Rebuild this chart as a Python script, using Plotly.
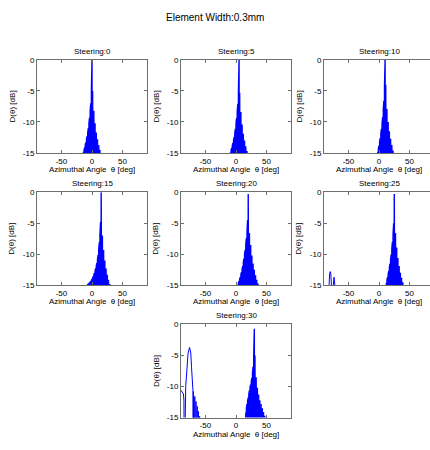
import plotly.graph_objects as go

# Beam pattern D(theta) in dB for a linear array, element width 0.3 mm,
# sampled at lobe maxima and nulls around each steered main lobe.
STEERING = [0, 5, 10, 15, 20, 25, 30]

THETA_S0 = [-15.5, -15, -14.5, -14, -13.5, -13, -12.5, -12, -11.5, -11, -10.5, -10,
            -9.5, -9, -8.5, -8, -7.5, -7, -6.5, -6, -5.5, -5, -4.5, -4, -3.5, -3,
            -2.5, -2, -1.5, -1, -0.5, 0, 0.5, 1, 1.5, 2, 2.5, 3, 3.5, 4, 4.5, 5,
            5.5, 6, 6.5, 7, 7.5, 8, 8.5, 9, 9.5, 10, 10.5, 11, 11.5, 12, 12.5, 13,
            13.5, 14, 14.5, 15, 15.5]
D_S0 = [-40, -15.2, -40, -14.8, -40, -14.5, -40, -14.1, -40, -13.7, -40, -13.3,
        -40, -12.8, -40, -12.3, -40, -11.7, -40, -11.0, -40, -10.2, -40, -9.3,
        -40, -8.2, -40, -7.0, -40, -5.0, -40, 0.0, -40, -5.0, -40, -7.0, -40, -8.2,
        -40, -9.3, -40, -10.2, -40, -11.0, -40, -11.7, -40, -12.3, -40, -12.8,
        -40, -13.3, -40, -13.7, -40, -14.1, -40, -14.5, -40, -14.8, -40, -15.2, -40]

THETA_S5 = [-10.5, -10, -9.5, -9, -8.5, -8, -7.5, -7, -6.5, -6, -5.5, -5, -4.5, -4,
            -3.5, -3, -2.5, -2, -1.5, -1, -0.5, 0, 0.5, 1, 1.5, 2, 2.5, 3, 3.5, 4,
            4.5, 5, 5.5, 6, 6.5, 7, 7.5, 8, 8.5, 9, 9.5, 10, 10.5, 11, 11.5, 12,
            12.5, 13, 13.5, 14, 14.5, 15, 15.5, 16, 16.5, 17, 17.5, 18, 18.5, 19, 19.5]
D_S5 = [-40, -15.3, -40, -14.9, -40, -14.5, -40, -14.2, -40, -13.8, -40, -13.4,
        -40, -12.9, -40, -12.4, -40, -11.8, -40, -11.1, -40, -10.3, -40, -9.4,
        -40, -8.3, -40, -7.1, -40, -5.2, -40, 0.0, -40, -5.3, -40, -7.2, -40, -8.4,
        -40, -9.5, -40, -10.4, -40, -11.2, -40, -11.9, -40, -12.5, -40, -13.0,
        -40, -13.5, -40, -13.9, -40, -14.3, -40, -14.7, -40, -15.1, -40]

THETA_S10 = [-3.5, -3, -2.5, -2, -1.5, -1, -0.5, 0, 0.5, 1, 1.5, 2, 2.5, 3, 3.5, 4,
             4.5, 5, 5.5, 6, 6.5, 7, 7.5, 8, 8.5, 9, 9.5, 10, 10.5, 11, 11.5, 12,
             12.5, 13, 13.5, 14, 14.5, 15, 15.5, 16, 16.5, 17, 17.5, 18, 18.5, 19,
             19.5, 20, 20.5, 21, 21.5, 22, 22.5, 23, 23.5, 24, 24.5]
D_S10 = [-40, -15.2, -40, -14.8, -40, -14.3, -40, -13.8, -40, -13.2, -40, -12.6,
         -40, -11.9, -40, -11.1, -40, -10.2, -40, -9.2, -40, -8.0, -40, -6.6,
         -40, -4.2, -40, 0.0, -40, -4.0, -40, -6.4, -40, -7.9, -40, -9.1, -40, -10.0,
         -40, -10.8, -40, -11.5, -40, -12.1, -40, -12.7, -40, -13.2, -40, -13.7,
         -40, -14.2, -40, -14.6, -40, -15.1, -40]

THETA_S15 = [-9.5, -9, -8.5, -8, -7.5, -7, -6.5, -6, -5.5, -5, -4.5, -4, -3.5, -3,
             -2.5, -2, -1.5, -1, -0.5, 0, 0.5, 1, 1.5, 2, 2.5, 3, 3.5, 4, 4.5, 5,
             5.5, 6, 6.5, 7, 7.5, 8, 8.5, 9, 9.5, 10, 10.5, 11, 11.5, 12, 12.5, 13,
             13.5, 14, 14.5, 15, 15.5, 16, 16.5, 17, 17.5, 18, 18.5, 19, 19.5, 20,
             20.5, 21, 21.5, 22, 22.5, 23, 23.5, 24, 24.5, 25, 25.5, 26, 26.5, 27,
             27.5, 28, 28.5, 29, 29.5, 30, 30.5]
D_S15 = [-40, -15.2, -40, -15.0, -40, -14.9, -40, -14.8, -40, -14.7, -40, -14.6,
         -40, -14.5, -40, -14.4, -40, -14.2, -40, -14.0, -40, -13.8, -40, -13.6,
         -40, -13.3, -40, -13.0, -40, -12.7, -40, -12.3, -40, -11.9, -40, -11.4,
         -40, -10.8, -40, -10.1, -40, -9.2, -40, -8.1, -40, -6.9, -40, -4.8,
         -40, 0.0, -40, -4.9, -40, -7.0, -40, -8.2, -40, -9.3, -40, -10.2, -40, -11.0,
         -40, -11.7, -40, -12.3, -40, -12.8, -40, -13.3, -40, -13.7, -40, -14.1,
         -40, -14.5, -40, -14.8, -40, -15.2, -40]

THETA_S20 = [1.5, 2, 2.5, 3, 3.5, 4, 4.5, 5, 5.5, 6, 6.5, 7, 7.5, 8, 8.5, 9, 9.5,
             10, 10.5, 11, 11.5, 12, 12.5, 13, 13.5, 14, 14.5, 15, 15.5, 16, 16.5,
             17, 17.5, 18, 18.5, 19, 19.5, 20, 20.5, 21, 21.5, 22, 22.5, 23, 23.5,
             24, 24.5, 25, 25.5, 26, 26.5, 27, 27.5, 28, 28.5, 29, 29.5, 30, 30.5,
             31, 31.5, 32, 32.5, 33, 33.5, 34, 34.5, 35, 35.5, 36, 36.5, 37, 37.5,
             38, 38.5]
D_S20 = [-40, -15.2, -40, -14.9, -40, -14.6, -40, -14.3, -40, -14.0, -40, -13.7,
         -40, -13.3, -40, -12.9, -40, -12.4, -40, -11.9, -40, -11.3, -40, -10.7,
         -40, -10.0, -40, -9.3, -40, -8.4, -40, -7.4, -40, -6.5, -40, -4.5,
         -40, -0.3, -40, -4.6, -40, -6.6, -40, -7.5, -40, -8.5, -40, -9.4, -40, -10.2,
         -40, -10.9, -40, -11.5, -40, -12.0, -40, -12.5, -40, -13.0, -40, -13.4,
         -40, -13.8, -40, -14.1, -40, -14.4, -40, -14.7, -40, -15.0, -40, -15.3, -40]

THETA_S25 = [10.5, 11, 11.5, 12, 12.5, 13, 13.5, 14, 14.5, 15, 15.5, 16, 16.5, 17,
             17.5, 18, 18.5, 19, 19.5, 20, 20.5, 21, 21.5, 22, 22.5, 23, 23.5, 24,
             24.5, 25, 25.5, 26, 26.5, 27, 27.5, 28, 28.5, 29, 29.5, 30, 30.5, 31,
             31.5, 32, 32.5, 33, 33.5, 34, 34.5, 35, 35.5, 36, 36.5, 37, 37.5, 38,
             38.5, 39, 39.5, 40, 40.5, 41, 41.5]
D_S25 = [-40, -15.1, -40, -14.6, -40, -14.2, -40, -13.7, -40, -13.2, -40, -12.7,
         -40, -12.1, -40, -11.5, -40, -10.8, -40, -10.0, -40, -9.1, -40, -8.0,
         -40, -6.8, -40, -5.0, -40, -0.3, -40, -4.8, -40, -6.6, -40, -7.8, -40, -8.9,
         -40, -9.8, -40, -10.6, -40, -11.3, -40, -11.9, -40, -12.5, -40, -13.0,
         -40, -13.4, -40, -13.8, -40, -14.2, -40, -14.5, -40, -14.8, -40, -15.1, -40]
# grating-lobe remnants near endfire for 25 deg steering
THETA_S25_GL = [-83.0, -81.8, -80.8, -79.7, -78.8, -77.8, -76.5, -75.0, -73.6, -72.4, -71.5]
D_S25_GL = [-18.0, -14.2, -13.1, -12.8, -13.2, -15.0, -19.0, -15.2, -13.7, -14.8, -18.0]

THETA_S30 = [14.5, 15, 15.5, 16, 16.5, 17, 17.5, 18, 18.5, 19, 19.5, 20, 20.5, 21,
             21.5, 22, 22.5, 23, 23.5, 24, 24.5, 25, 25.5, 26, 26.5, 27, 27.5, 28,
             28.5, 29, 29.5, 30, 30.5, 31, 31.5, 32, 32.5, 33, 33.5, 34, 34.5, 35,
             35.5, 36, 36.5, 37, 37.5, 38, 38.5, 39, 39.5, 40, 40.5, 41, 41.5, 42,
             42.5, 43, 43.5, 44, 44.5, 45, 45.5, 46, 46.5, 47, 47.5, 48, 48.5, 49, 49.5]
D_S30 = [-40, -15.1, -40, -14.2, -40, -13.5, -40, -12.8, -40, -12.3, -40, -11.8,
         -40, -11.2, -40, -10.6, -40, -10.1, -40, -9.7, -40, -9.2, -40, -8.6,
         -40, -7.8, -40, -6.8, -40, -5.0, -40, -0.7, -40, -5.0, -40, -7.0, -40, -8.5,
         -40, -9.5, -40, -10.2, -40, -10.8, -40, -11.3, -40, -11.8, -40, -12.2,
         -40, -12.5, -40, -12.8, -40, -13.2, -40, -13.5, -40, -13.8, -40, -14.1,
         -40, -14.4, -40, -14.7, -40, -15.0, -40, -15.3, -40]
# grating lobe near -76 deg for 30 deg steering
THETA_S30_GL = [-90.0, -88.0, -86.0, -85.2, -84.6, -83.6, -83.2, -82.3, -80.6, -78.4,
                -76.0, -74.0, -72.8, -71.3, -70.5, -70.0, -69.5, -69.0, -68.5, -68.0,
                -67.5, -67.0, -66.5, -66.0, -65.5, -65.0, -64.5, -64.0, -63.5, -63.0,
                -62.5, -62.0, -61.5, -61.0, -60.5, -60.0, -59.5, -59.0, -58.5, -58.0]
D_S30_GL = [-10.6, -10.9, -11.2, -12.2, -40, -40, -16.0, -10.0, -6.8, -4.6,
            -3.7, -4.6, -6.8, -9.3, -10.6, -40, -10.8, -40, -11.2, -40,
            -11.6, -40, -12.0, -40, -12.4, -40, -12.8, -40, -13.2, -40,
            -13.6, -40, -14.0, -40, -14.4, -40, -14.8, -40, -15.2, -40]

X_TICKS = [-50, 0, 50]
X_TICK_TEXT = ["-50", "0", "50"]
Y_TICKS = [-15, -10, -5, 0]
Y_TICK_TEXT = ["-15", "-10", "-5", "0"]

MAIN_TITLE = "Element Width:0.3mm"
X_LABEL = "Azimuthal Angle  \u03b8 [deg]"
Y_LABEL = "D(\u03b8) [dB]"

# (series, line width): dense lobe fans are drawn slightly heavier
PANELS = [
    [(THETA_S0, D_S0, 1.4)],
    [(THETA_S5, D_S5, 1.4)],
    [(THETA_S10, D_S10, 1.4)],
    [(THETA_S15, D_S15, 1.4)],
    [(THETA_S20, D_S20, 1.4)],
    [(THETA_S25_GL, D_S25_GL, 1.0), (THETA_S25, D_S25, 1.4)],
    [(THETA_S30_GL, D_S30_GL, 1.0), (THETA_S30, D_S30, 1.4)],
]

# page geometry (pixels)
W, H = 430, 450
COL_LEFT = [37, 181, 324]
ROW_TOP = [57, 192, 327]
BOX_W, BOX_H = 110, 95
FRAME = "#6e6e6e"
BLUE = "#0000ff"
FONT = "Liberation Sans, Arial, sans-serif"

fig = go.Figure()
annotations = []
layout = {}

for i, (steer, series) in enumerate(zip(STEERING, PANELS)):
    row, col = divmod(i, 3)
    if i == 6:
        row, col = 2, 1
    n = i + 1
    sfx = "" if n == 1 else str(n)
    left = COL_LEFT[col]
    right = left + BOX_W
    top = ROW_TOP[row]
    bottom = top + BOX_H
    x_hi = 90.0
    clipped = right > W
    if clipped:
        x_hi = -90.0 + (W - left) * 180.0 / BOX_W
        right = W

    for th, d, lw in series:
        fig.add_trace(go.Scatter(
            x=th, y=d, mode="lines", xaxis="x" + sfx, yaxis="y" + sfx,
            line=dict(color=BLUE, width=lw), hoverinfo="skip", showlegend=False,
        ))

    layout["xaxis" + sfx] = dict(
        domain=[left / W, right / W], range=[-90, x_hi], anchor="y" + sfx,
        showline=True, linecolor=FRAME, linewidth=1, mirror="ticks",
        ticks="inside", ticklen=3, tickcolor=FRAME, tickwidth=1,
        tickvals=X_TICKS, ticktext=X_TICK_TEXT,
        tickfont=dict(size=8, color="#000000", family=FONT),
        showgrid=False, zeroline=False, fixedrange=True,
    )
    layout["yaxis" + sfx] = dict(
        domain=[1 - bottom / H, 1 - top / H], range=[-15, 0], anchor="x" + sfx,
        showline=True, linecolor=FRAME, linewidth=1,
        mirror=False if clipped else "ticks",
        ticks="inside", ticklen=3, tickcolor=FRAME, tickwidth=1,
        tickvals=Y_TICKS, ticktext=Y_TICK_TEXT,
        tickfont=dict(size=8, color="#000000", family=FONT),
        showgrid=False, zeroline=False, fixedrange=True,
    )

    cx = (left + BOX_W / 2) / W
    annotations.append(dict(
        text="Steering:%d" % steer, x=cx, y=1 - (top - 9) / H,
        xref="paper", yref="paper", xanchor="center", yanchor="middle",
        showarrow=False, font=dict(size=8, color="#000000", family=FONT),
    ))
    annotations.append(dict(
        text=X_LABEL, x=cx, y=1 - (bottom + 17) / H,
        xref="paper", yref="paper", xanchor="center", yanchor="middle",
        showarrow=False, font=dict(size=8, color="#000000", family=FONT),
    ))
    annotations.append(dict(
        text=Y_LABEL, x=(left - 25) / W, y=1 - (top + BOX_H / 2) / H,
        xref="paper", yref="paper", xanchor="center", yanchor="middle",
        textangle=-90, showarrow=False,
        font=dict(size=8, color="#000000", family=FONT),
    ))

annotations.append(dict(
    text=MAIN_TITLE, x=215 / W, y=1 - 14 / H, xref="paper", yref="paper",
    xanchor="center", yanchor="middle", showarrow=False,
    font=dict(size=10, color="#000000", family=FONT),
))

fig.update_layout(
    width=W, height=H, margin=dict(l=0, r=0, t=0, b=0),
    paper_bgcolor="#ffffff", plot_bgcolor="#ffffff",
    showlegend=False, annotations=annotations, **layout,
)

fig.write_html("out.html", config={"displayModeBar": False})
